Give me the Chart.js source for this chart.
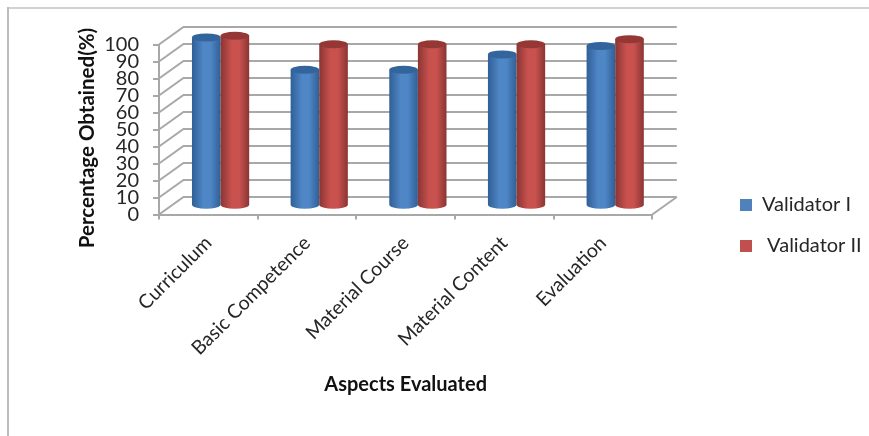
<!DOCTYPE html>
<html>
<head>
<meta charset="utf-8">
<script src="https://cdn.jsdelivr.net/npm/chart.js@4"></script>
<style>
  html, body { margin: 0; background: #fff; }
  #wrap { position: relative; width: 869px; height: 436px; overflow: hidden; }
  #wrap:before { content: ""; position: absolute; left: 7px; top: 7px; right: 0; height: 2px; background: #d2d2d2; }
  #wrap:after { content: ""; position: absolute; left: 7px; top: 7px; bottom: 0; width: 2px; background: #bcbcbc; }
</style>
</head>
<body>
<div id="wrap"><canvas id="chart" width="869" height="436"></canvas></div>
<script>
// datos
const categories = ['Curriculum', 'Basic Competence', 'Material Course', 'Material Content', 'Evaluation'];
const validatorI = [99, 80, 80, 89, 94];
const validatorII = [100, 95, 95, 95, 98];
const seriesNames = ['Validator I', ' Validator II'];
const yTitle = 'Percentage Obtained(%)';
const xTitle = 'Aspects Evaluated';

const FONT = 'Lato, Carlito, sans-serif';
const GRID = '#a8a8a8';
const DEPTH_X = 24.5, DEPTH_Y = -17.5;
const shades = [
  { side: '#2f5f96', mid: '#4f86c6', top: '#33659c' },
  { side: '#8a3533', mid: '#c9524f', top: '#953735' }
];

// paredes y piso en perspectiva, sobre la escala del eje y
function drawWalls(chart) {
  const { ctx, chartArea, scales } = chart;
  ctx.save();
  ctx.strokeStyle = GRID;
  ctx.lineWidth = 2;
  scales.y.ticks.forEach(t => {
    const y = scales.y.getPixelForValue(t.value);
    ctx.beginPath();
    ctx.moveTo(chartArea.left, y);
    ctx.lineTo(chartArea.left + DEPTH_X, y + DEPTH_Y);
    ctx.lineTo(chartArea.right + DEPTH_X, y + DEPTH_Y);
    ctx.stroke();
  });
  const y0 = scales.y.getPixelForValue(0);
  ctx.beginPath();
  ctx.moveTo(chartArea.right, y0);
  ctx.lineTo(chartArea.right + DEPTH_X, y0 + DEPTH_Y);
  ctx.stroke();
  ctx.restore();
}

// cada barra se pinta como cilindro usando x, y, base y width del elemento
function drawCylinders(chart, index) {
  const { ctx } = chart;
  const shade = shades[index];
  ctx.save();
  ctx.translate(DEPTH_X / 2, DEPTH_Y / 2);
  chart.getDatasetMeta(index).data.forEach(bar => {
    const rx = bar.width / 2, ry = 4;
    const left = bar.x - rx, right = bar.x + rx;
    const grad = ctx.createLinearGradient(left, 0, right, 0);
    grad.addColorStop(0, shade.side);
    grad.addColorStop(0.4, shade.mid);
    grad.addColorStop(0.65, shade.mid);
    grad.addColorStop(1, shade.side);
    ctx.fillStyle = grad;
    ctx.beginPath();
    ctx.moveTo(left, bar.y);
    ctx.lineTo(left, bar.base);
    ctx.ellipse(bar.x, bar.base, rx, ry, 0, Math.PI, 0, true);
    ctx.lineTo(right, bar.y);
    ctx.closePath();
    ctx.fill();
    ctx.fillStyle = shade.top;
    ctx.beginPath();
    ctx.ellipse(bar.x, bar.y, rx, ry, 0, 0, Math.PI * 2);
    ctx.fill();
  });
  ctx.restore();
}

const scenePlugin = {
  id: 'scene',
  beforeDatasetsDraw(chart) {
    drawWalls(chart);
    // azul primero, rojo encima
    drawCylinders(chart, 0);
    drawCylinders(chart, 1);
  },
  beforeDatasetDraw() {
    return false;
  }
};

// la leyenda va a la derecha, separada del area del grafico
const placePlugin = {
  id: 'place',
  beforeDraw(chart) {
    const legend = chart.legend;
    const h = legend.bottom - legend.top;
    legend.left = 719;
    legend.right = legend.left + legend.width;
    legend.top = 225.5 - h / 2;
    legend.bottom = legend.top + h;
  },
  afterDraw(chart) {
    const { ctx } = chart;
    ctx.save();
    ctx.translate(87, 138);
    ctx.rotate(-Math.PI / 2);
    ctx.font = 'bold 20.5px ' + FONT;
    ctx.fillStyle = '#111';
    ctx.textAlign = 'center';
    ctx.textBaseline = 'middle';
    ctx.fillText(yTitle, 0, 0);
    ctx.restore();
  }
};

new Chart(document.getElementById('chart').getContext('2d'), {
  type: 'bar',
  plugins: [scenePlugin, placePlugin],
  data: {
    labels: categories,
    datasets: [
      { label: seriesNames[0], data: validatorI, backgroundColor: '#4f81bd' },
      { label: seriesNames[1], data: validatorII, backgroundColor: '#c0504d' }
    ]
  },
  options: {
    responsive: false,
    animation: false,
    layout: { padding: { left: 0, top: 44.5, right: 64, bottom: 39 } },
    datasets: { bar: { categoryPercentage: 0.58, barPercentage: 1 } },
    plugins: {
      tooltip: { enabled: false },
      legend: {
        position: 'right',
        labels: {
          boxWidth: 12,
          boxHeight: 12,
          padding: 21,
          color: '#262626',
          font: { family: FONT, size: 20 }
        }
      }
    },
    scales: {
      x: {
        afterFit: s => { s.height = 182.5; },
        border: { color: GRID, width: 2 },
        grid: { drawOnChartArea: false, color: GRID, lineWidth: 2, tickLength: 5 },
        ticks: {
          minRotation: 45,
          maxRotation: 45,
          padding: 12,
          color: '#262626',
          font: { family: FONT, size: 19.5 }
        },
        title: {
          display: true,
          text: xTitle,
          color: '#111',
          padding: 0,
          font: { family: FONT, size: 20, weight: 'bold' }
        }
      },
      y: {
        min: 0,
        max: 100,
        afterFit: s => { s.width = 159; },
        border: { color: GRID, width: 2 },
        grid: { drawOnChartArea: false, color: GRID, lineWidth: 2, tickLength: 6 },
        ticks: {
          stepSize: 10,
          autoSkip: false,
          padding: 14,
          color: '#262626',
          font: { family: FONT, size: 20 }
        }
      }
    }
  }
});
</script>
</body>
</html>
